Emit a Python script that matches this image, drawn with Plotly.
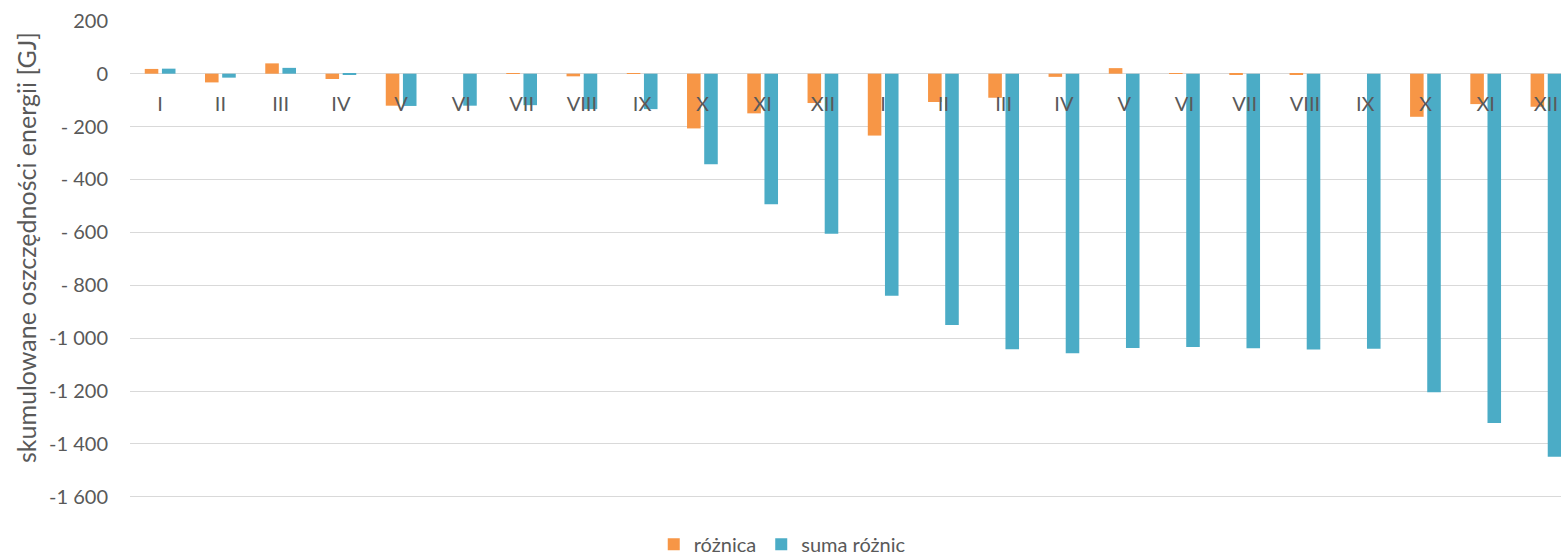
import plotly.graph_objects as go

# Month labels for two consecutive years
months = ["I", "II", "III", "IV", "V", "VI", "VII", "VIII", "IX", "X", "XI", "XII"]
month_labels = months + months

# Monthly difference of energy savings [GJ]
roznica = [18, -33, 39, -20, -121, 0, 2, -10, -1, -207, -150, -111,
           -234, -107, -91, -12, 21, 2, -2, -2, 0, -163, -115, -125]

# Cumulative sum of the differences [GJ]
suma_roznic = [19, -15, 22, -2, -122, -121, -119, -134, -134, -342, -494, -605,
               -840, -950, -1042, -1057, -1037, -1033, -1038, -1043, -1040, -1205, -1321, -1448]

# Value axis ticks
y_ticks = [200, 0, -200, -400, -600, -800, -1000, -1200, -1400, -1600]
y_tick_text = ["200", "0", "- 200", "- 400", "- 600", "- 800",
               "-1 000", "-1 200", "-1 400", "-1 600"]

FONT = "Lato"
TEXT_COLOR = "#595959"
GRID_COLOR = "#D9D9D9"

x_pos = list(range(len(month_labels)))

fig = go.Figure()
fig.add_trace(go.Bar(x=x_pos, y=roznica, name="różnica",
                     marker=dict(color="#F79646", line=dict(width=0))))
fig.add_trace(go.Bar(x=x_pos, y=suma_roznic, name="suma różnic",
                     marker=dict(color="#4BACC6", line=dict(width=0))))

# padded range so the outer gridlines (200 and -1600) are drawn
y_min, y_max = -1612, 203
zero_frac = (0 - y_min) / (y_max - y_min)

fig.update_layout(
    width=1561, height=560,
    margin=dict(l=130, r=0, t=20, b=60, autoexpand=False),
    paper_bgcolor="white", plot_bgcolor="white",
    barmode="group", bargap=0.43, bargroupgap=0.21,
    font=dict(family=FONT, size=20, color=TEXT_COLOR),
    showlegend=True,
    legend=dict(orientation="h", x=0.366, xanchor="left",
                y=-0.092, yanchor="middle",
                font=dict(size=20, color=TEXT_COLOR), itemwidth=30,
                tracegroupgap=0, bgcolor="rgba(0,0,0,0)"),
    xaxis=dict(
        range=[-0.5, 23.25],
        tickmode="array", tickvals=x_pos, ticktext=month_labels,
        anchor="free", position=zero_frac,
        showgrid=False, showline=False, zeroline=False, ticks="",
        tickfont=dict(size=20, color=TEXT_COLOR),
        ticklabelstandoff=16,
        fixedrange=True,
    ),
    yaxis=dict(
        range=[y_min, y_max],
        tickmode="array", tickvals=y_ticks, ticktext=y_tick_text,
        showgrid=True, gridcolor=GRID_COLOR, gridwidth=1,
        zeroline=False, showline=False, ticks="",
        ticklabelstandoff=21,
        tickfont=dict(size=20, color=TEXT_COLOR),
        automargin=False,
    ),
    annotations=[dict(
        text="skumulowane oszczędności energii [GJ]",
        xref="paper", yref="paper", x=-0.0727, y=0.527,
        xanchor="center", yanchor="middle", textangle=-90, showarrow=False,
        font=dict(family=FONT, size=25, color=TEXT_COLOR),
    )],
)

fig.write_html("out.html")
